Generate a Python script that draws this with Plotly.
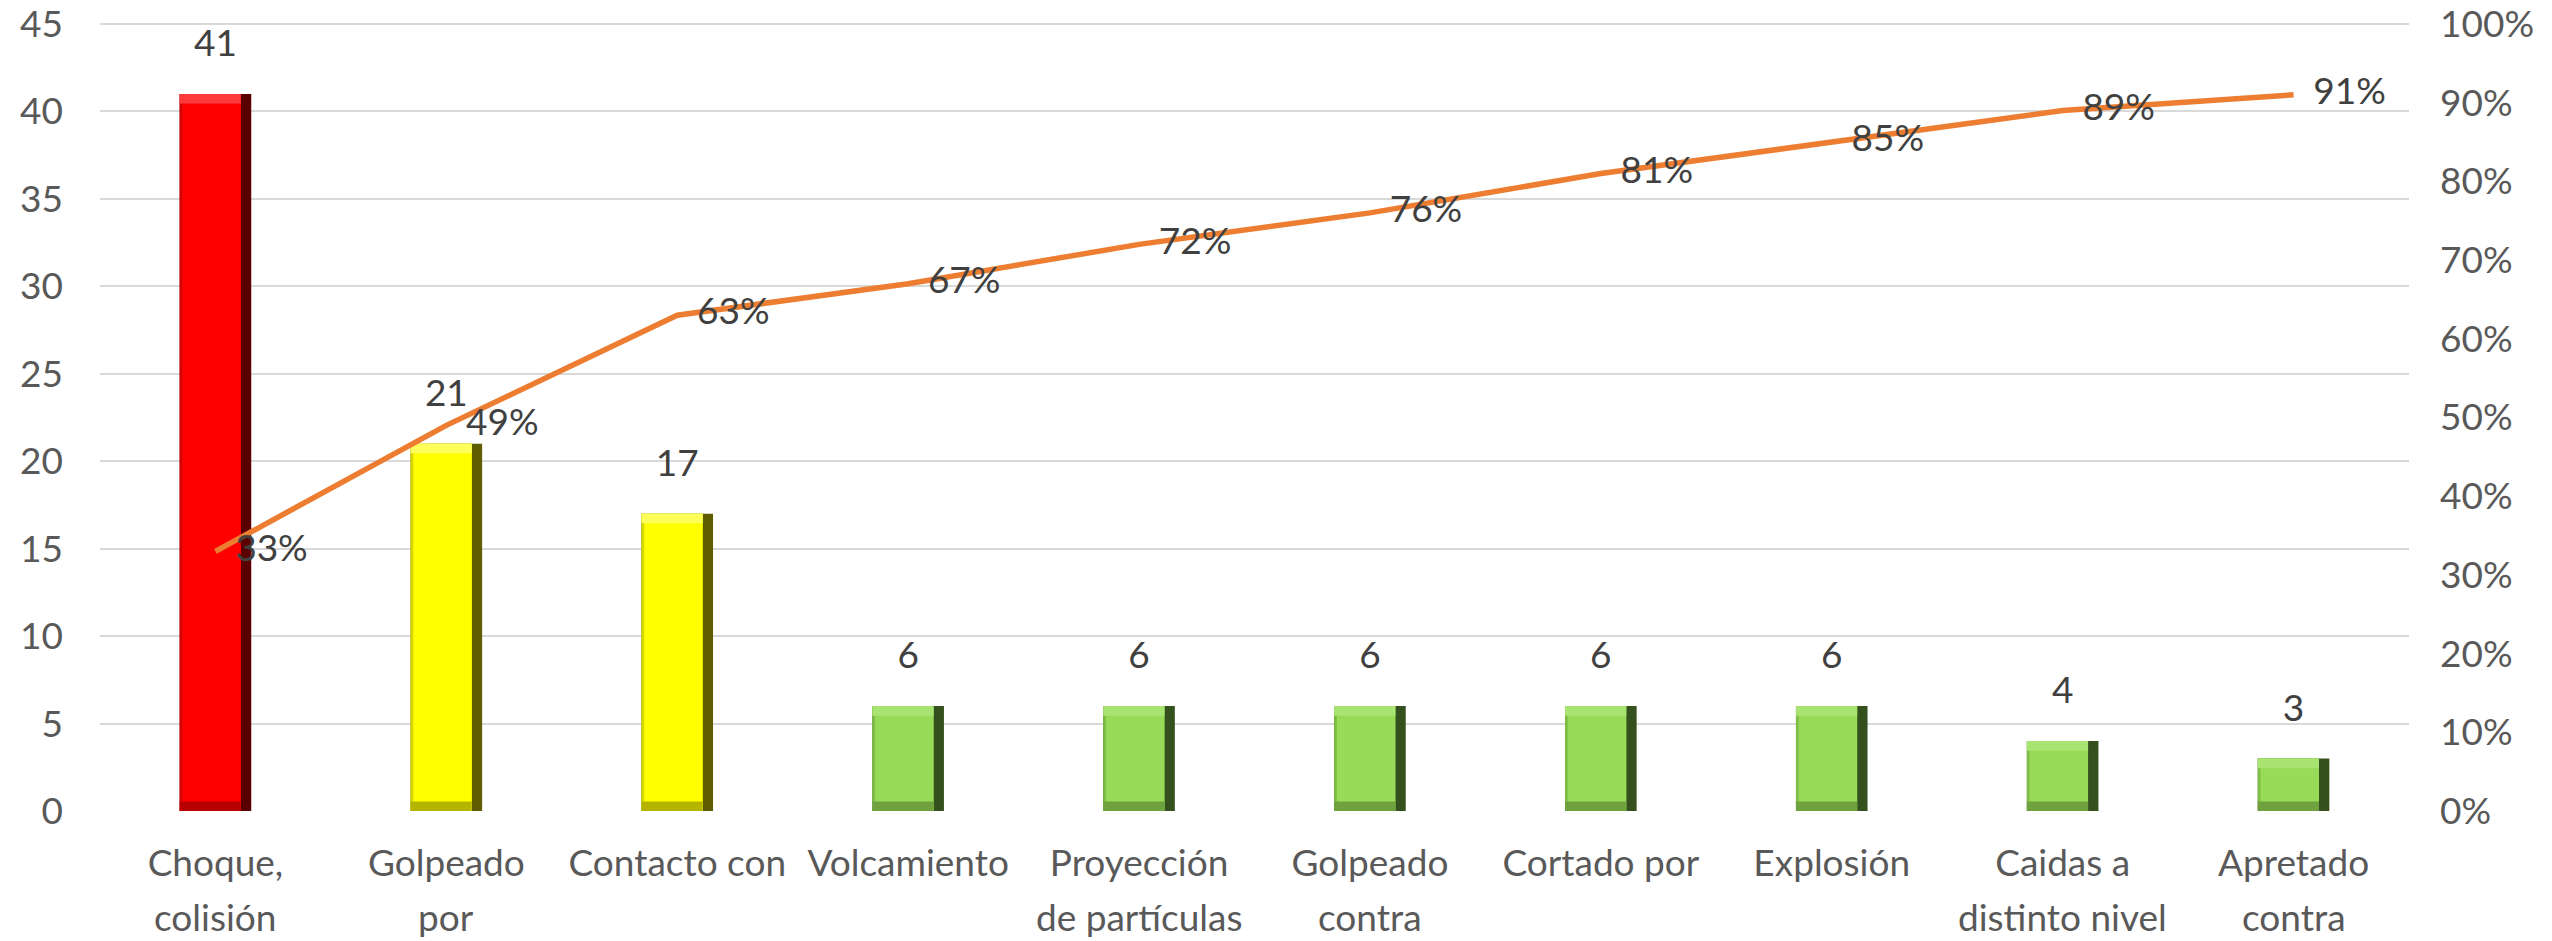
import plotly.graph_objects as go

# Accident types (Pareto order); each tick label is shown on up to two lines
categories = [
    "Choque, colisión", "Golpeado por", "Contacto con", "Volcamiento",
    "Proyección de partículas", "Golpeado contra", "Cortado por",
    "Explosión", "Caidas a distinto nivel", "Apretado contra",
]
label_line1 = ["Choque,", "Golpeado", "Contacto con", "Volcamiento", "Proyección",
               "Golpeado", "Cortado por", "Explosión", "Caidas a", "Apretado"]
label_line2 = ["colisión", "por", "", "", "de partículas",
               "contra", "", "", "distinto nivel", "contra"]
counts = [41, 21, 17, 6, 6, 6, 6, 6, 4, 3]
cumulative_pct = [33, 49, 63, 67, 72, 76, 81, 85, 89, 91]

# Priority colour per bar: face, top highlight, right shadow, bottom shade, left edge
palette = {
    "red":    ("#FF0000", "#FF3C3C", "#5A0000", "#B80000", "#D80000"),
    "yellow": ("#FFFF00", "#FFFF5C", "#5E5E00", "#B5B500", "#D8D800"),
    "green":  ("#98DB58", "#A9E372", "#34501C", "#6FA23F", "#7FBF45"),
}
priority = ["red", "yellow", "yellow", "green", "green", "green", "green", "green", "green", "green"]

FONT = "Lato"
FS = 37
BAR_W = 0.31      # bar width in category units
EDGE_X = 0.045    # bevel width on the right side (category units)
EDGE_L = 0.012    # thin left edge (category units)
EDGE_Y = 0.55     # bevel height top/bottom (count units)
Y_MAX = 45
PLOT_H = 941 - 22 - 130
Y_TOP = Y_MAX * PLOT_H / (PLOT_H - 2)   # 2 px headroom keeps the top gridline

face = [palette[p][0] for p in priority]
top = [palette[p][1] for p in priority]
shadow = [palette[p][2] for p in priority]
bottom = [palette[p][3] for p in priority]
left = [palette[p][4] for p in priority]

fig = go.Figure()

# bevelled bars built from overlaid layers
fig.add_trace(go.Bar(x=categories, y=counts, width=BAR_W, offset=-BAR_W / 2,
                     marker=dict(color=shadow, line=dict(width=0)), hoverinfo="skip"))
fig.add_trace(go.Bar(x=categories, y=counts, width=BAR_W - EDGE_X, offset=-BAR_W / 2,
                     marker=dict(color=left, line=dict(width=0)), hoverinfo="skip"))
fig.add_trace(go.Bar(x=categories, y=counts, width=BAR_W - EDGE_X - EDGE_L,
                     offset=-BAR_W / 2 + EDGE_L,
                     marker=dict(color=face, line=dict(width=0)), hoverinfo="skip"))
fig.add_trace(go.Bar(x=categories, y=[EDGE_Y] * len(counts), base=[0] * len(counts),
                     width=BAR_W - EDGE_X, offset=-BAR_W / 2,
                     marker=dict(color=bottom, line=dict(width=0)), hoverinfo="skip"))
fig.add_trace(go.Bar(x=categories, y=[EDGE_Y] * len(counts),
                     base=[c - EDGE_Y for c in counts],
                     width=BAR_W - EDGE_X, offset=-BAR_W / 2,
                     marker=dict(color=top, line=dict(width=0)), hoverinfo="skip"))

# count labels above bars
fig.add_trace(go.Scatter(
    x=categories, y=counts, mode="markers+text",
    marker=dict(size=44, opacity=0),
    text=[str(c) for c in counts], textposition="top center",
    textfont=dict(family=FONT, size=FS, color="#404040"),
    hoverinfo="skip", showlegend=False,
))

# cumulative percentage line
fig.add_trace(go.Scatter(
    x=categories, y=[p / 100 for p in cumulative_pct], yaxis="y2",
    mode="lines", line=dict(color="#ED7D31", width=5.5),
    hoverinfo="skip", showlegend=False,
))
fig.add_trace(go.Scatter(
    x=categories, y=[p / 100 for p in cumulative_pct], yaxis="y2",
    mode="markers+text", marker=dict(size=30, opacity=0),
    text=[f"{p}%" for p in cumulative_pct], textposition="middle right",
    textfont=dict(family=FONT, size=FS, color="#404040"),
    hoverinfo="skip", showlegend=False,
))

# second line of the category labels
for cat, line in zip(categories, label_line2):
    if line:
        fig.add_annotation(
            x=cat, xref="x", y=0, yref="paper", yshift=-105,
            text=line, showarrow=False, yanchor="middle", xanchor="center",
            font=dict(family=FONT, size=FS, color="#595959"),
        )

fig.update_layout(
    width=2552, height=941,
    margin=dict(l=100, r=143, t=22, b=130),
    paper_bgcolor="white", plot_bgcolor="rgba(0,0,0,0)",
    barmode="overlay", showlegend=False,
    font=dict(family=FONT, size=FS, color="#595959"),
    xaxis=dict(
        type="category", range=[-0.5, len(categories) - 0.5],
        tickvals=categories, ticktext=label_line1,
        showgrid=False, zeroline=False, showline=False, automargin=False,
        ticks="", ticklabelstandoff=27, ticklabeloverflow="allow",
        tickfont=dict(family=FONT, size=FS, color="#595959"),
    ),
    yaxis=dict(
        range=[0, Y_TOP], tick0=0, dtick=5, showgrid=True, gridcolor="#D9D9D9", gridwidth=2,
        zeroline=False, showline=False, automargin=False, ticks="", ticklabelstandoff=36,
        ticklabeloverflow="allow",
        tickfont=dict(family=FONT, size=FS, color="#595959"),
    ),
    yaxis2=dict(
        range=[0, Y_TOP / Y_MAX], tick0=0, dtick=0.1, tickformat=".0%",
        overlaying="y", side="right",
        showgrid=False, zeroline=False, showline=False, automargin=False,
        ticks="", ticklabelstandoff=30, ticklabeloverflow="allow",
        tickfont=dict(family=FONT, size=FS, color="#595959"),
    ),
)

fig.write_html("out.html")
